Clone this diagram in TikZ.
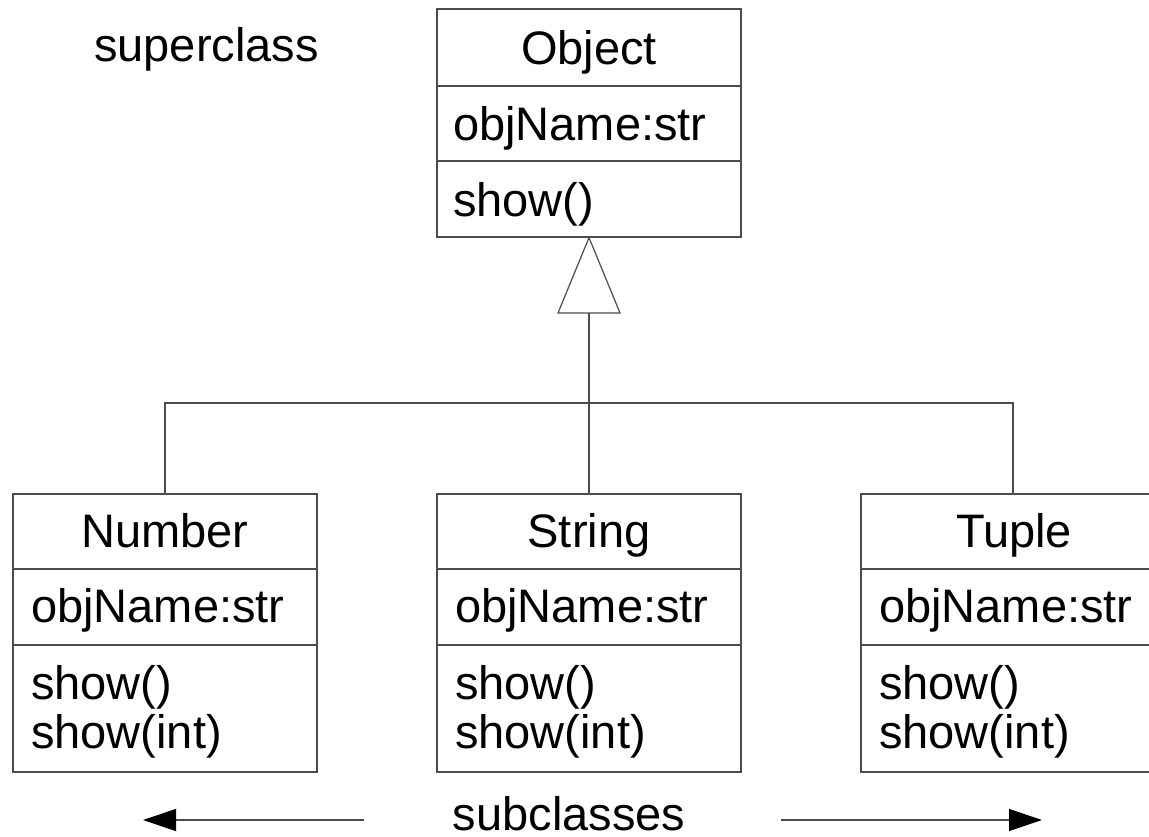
\documentclass[tikz,border=0pt]{standalone}
\usepackage{fontspec}
\setmainfont{Liberation Sans}
\usetikzlibrary{arrows.meta}
\begin{document}
\begin{tikzpicture}[x=1pt,y=-1pt,
  line/.style={draw=black!70,line width=1.2pt},
  classbox/.style={line,rectangle,inner sep=0pt,minimum width=304pt},
  txt/.style={inner sep=0pt,font=\fontsize{47}{48}\selectfont},
  title/.style={txt,anchor=base},
  member/.style={txt,anchor=base west},
  arr/.style={line,-{Triangle[length=33pt,width=22pt,color=black,fill=black]}}
]
\useasboundingbox (0,0) rectangle (1149,837);
\clip (0,0) rectangle (1149,837);
\fill[white] (0,0) rectangle (1149,837);

% superclass
\node[classbox,minimum height=228pt] (obj) at (589,123) {};
\draw[line] (437,86) -- (741,86);
\draw[line] (437,161) -- (741,161);
\node[title] (objT) at (589,65) {Object};
\node[member] (objA) at (453,141) {objName:str};
\node[member] (objM) at (453,217) {show()};

% subclasses
\node[classbox,minimum height=278pt] (num) at (165,633) {};
\node[classbox,minimum height=278pt] (str) at (589,633) {};
\node[classbox,minimum height=278pt] (tup) at (1013,633) {};
\foreach \b/\l in {num/13,str/437,tup/861}{
  \draw[line] (\l,569) -- ++(304,0);
  \draw[line] (\l,645) -- ++(304,0);
}
\node[title] (numT) at (165,547) {Number};
\node[member] (numA) at (31,622) {objName:str};
\node[member] (numM1) at (31,699) {show()};
\node[member] (numM2) at (31,748) {show(int)};

\node[title] (strT) at (589,547) {String};
\node[member] (strA) at (455,622) {objName:str};
\node[member] (strM1) at (455,699) {show()};
\node[member] (strM2) at (455,748) {show(int)};

\node[title] (tupT) at (1014,547) {Tuple};
\node[member] (tupA) at (879,622) {objName:str};
\node[member] (tupM1) at (879,699) {show()};
\node[member] (tupM2) at (879,748) {show(int)};

% generalization
\coordinate (tbase) at (589,313);
\coordinate (junc) at (589,403);
\draw[line,fill=white] (obj.south) -- (558,313) -- (620,313) -- cycle;
\draw[line] (tbase) -- (junc);
\draw[line] (num.north) |- (junc) -| (tup.north);
\draw[line] (junc) -- (str.north);

% labels
\node[member] (sup) at (94,62) {superclass};
\node[title] (sub) at (569,830) {subclasses};
\coordinate (la) at (364,820);
\coordinate (lb) at (143,820);
\coordinate (ra) at (781,820);
\coordinate (rb) at (1042,820);
\draw[arr] (la) -- (lb);
\draw[arr] (ra) -- (rb);
\end{tikzpicture}
\end{document}
